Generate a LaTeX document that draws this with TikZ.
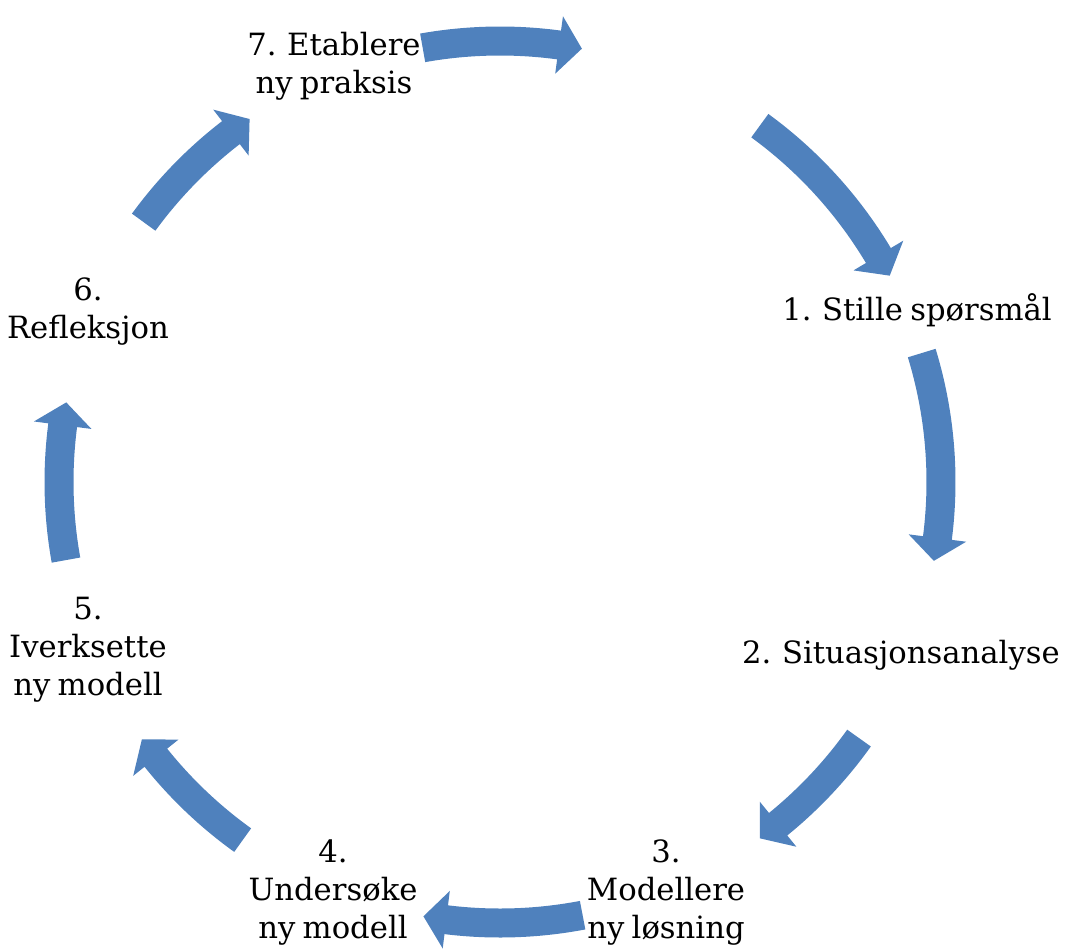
\documentclass[tikz,border=0pt]{standalone}
\usepackage{fontspec}
\setmainfont[WordSpace=0.75]{DejaVu Serif}
\definecolor{arrowblue}{RGB}{79,129,189}

% curved block arrow on the ring: #1 tail angle, #2 tip angle
\newcommand{\ringarrow}[2]{%
  \fill[arrowblue] (#1:455.5) arc[start angle=#1, end angle=#2+3, radius=455.5]
    -- ({#2+3}:470) -- (#2:441) -- ({#2+3}:412) -- ({#2+3}:426.5)
    arc[start angle=#2+3, end angle=#1, radius=426.5] -- cycle;}

\begin{document}
\begin{tikzpicture}[x=0.75pt,y=0.75pt,
  steptext/.style={align=center,inner sep=0pt,font=\fontsize{23}{28.5}\selectfont}]
\useasboundingbox (-500,-468) rectangle (569,482);

% Text Node
\node[steptext] (n1) at (417,172) {1. Stille spørsmål};
% Text Node
\node[steptext] (n2) at (401,-173) {2. Situasjonsanalyse};
% Text Node
\node[steptext] (n3) at (166,-411) {3.\\Modellere\\ny løsning};
% Text Node
\node[steptext] (n4) at (-167,-411) {4.\\Undersøke\\ny modell};
% Text Node
\node[steptext] (n5) at (-412,-168) {5.\\Iverksette\\ny modell};
% Text Node
\node[steptext] (n6) at (-412,170) {6.\\Refleksjon};
% Text Node
\node[steptext] (n7) at (-166,416) {7. Etablere\\ny praksis};

%Shape: Curved Arrows
\ringarrow{100.1}{79.3}
\ringarrow{53.9}{27.9}
\ringarrow{17.0}{-10.3}
\ringarrow{-35.5}{-53.9}
\ringarrow{-79.2}{-100}
\ringarrow{-125.7}{-144.3}
\ringarrow{190.2}{169.6}
\ringarrow{143.9}{124.6}

\end{tikzpicture}
\end{document}
